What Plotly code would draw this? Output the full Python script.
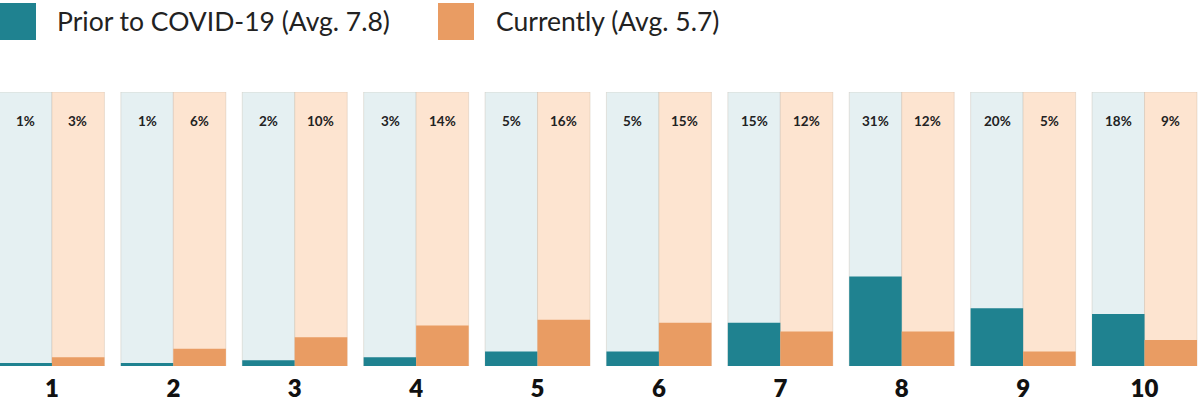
import plotly.graph_objects as go

# rating scale 1-10, share of respondents (%)
ratings = ["1", "2", "3", "4", "5", "6", "7", "8", "9", "10"]
prior_pct = [1, 1, 2, 3, 5, 5, 15, 31, 20, 18]
current_pct = [3, 6, 10, 14, 16, 15, 12, 12, 5, 9]

prior_name = "Prior to COVID-19 (Avg. 7.8)"
current_name = "Currently (Avg. 5.7)"

TEAL = "#1f8290"
ORANGE = "#e99c63"
TEAL_BG = "#e5f0f2"
ORANGE_BG = "#fde4d0"
FONT = "Lato"

panel_top = 95  # y value of the pale panel behind each bar

H = 412
M_TOP, M_BOT = 92, 46
PLOT_H = H - M_TOP - M_BOT


def _paper_y(px_from_top):
    # convert a pixel row of the figure into paper coords of the plot area
    return (H - M_BOT - px_from_top) / PLOT_H


def main():
    fig = go.Figure()

    x = [int(r) for r in ratings]

    # pale full-height panels behind each bar
    for name, color, group in [
        ("prior_bg", TEAL_BG, "prior"),
        ("current_bg", ORANGE_BG, "current"),
    ]:
        fig.add_trace(
            go.Bar(
                x=x,
                y=[panel_top] * len(x),
                name=name,
                offsetgroup=group,
                marker=dict(color=color, line=dict(color="rgba(180,160,140,0.25)", width=1)),
                hoverinfo="skip",
                showlegend=False,
            )
        )

    fig.add_trace(
        go.Bar(x=x, y=prior_pct, name=prior_name, offsetgroup="prior",
               marker=dict(color=TEAL, line=dict(width=0)), showlegend=False)
    )
    fig.add_trace(
        go.Bar(x=x, y=current_pct, name=current_name, offsetgroup="current",
               marker=dict(color=ORANGE, line=dict(width=0)), showlegend=False)
    )

    # percentage labels near the top of each panel
    for xi, p, c in zip(x, prior_pct, current_pct):
        for val, shift in [(p, -26), (c, 26)]:
            fig.add_annotation(
                x=xi, y=panel_top, xref="x", yref="y",
                text=f"{val}%", showarrow=False,
                xshift=shift, yshift=-29, yanchor="middle",
                font=dict(family=FONT, size=13.5, color="#222222", weight="bold"),
            )

    # custom legend with large squares
    for x0, tx, color, label in [
        (0.0, 0.0455, TEAL, prior_name),
        (0.365, 0.4115, ORANGE, current_name),
    ]:
        fig.add_shape(
            type="rect", xref="paper", yref="paper",
            x0=x0, x1=x0 + 0.03, y0=_paper_y(40), y1=_paper_y(3),
            fillcolor=color, line=dict(width=0), layer="above",
        )
        fig.add_annotation(
            x=tx, y=_paper_y(21), xref="paper", yref="paper",
            text=label, showarrow=False, xanchor="left", yanchor="middle",
            font=dict(family=FONT, size=26.5, color="#222222"),
        )

    fig.update_layout(
        width=1200,
        height=H,
        margin=dict(l=0, r=0, t=M_TOP, b=M_BOT),
        barmode="group",
        bargap=0.135,
        bargroupgap=0,
        plot_bgcolor="white",
        paper_bgcolor="white",
        showlegend=False,
    )
    fig.update_xaxes(
        range=[0.572, 10.457],
        tickmode="array",
        tickvals=x,
        ticktext=ratings,
        ticks="outside",
        ticklen=1,
        tickcolor="white",
        showgrid=False,
        zeroline=False,
        showline=False,
        tickfont=dict(family=FONT, size=24, color="#111111", weight=800),
    )
    fig.update_yaxes(
        range=[0, panel_top],
        visible=False,
        showgrid=False,
        zeroline=False,
    )

    fig.write_html(
        "out.html",
        config={"displayModeBar": False},
        post_script="document.body.style.margin='0';",
    )


if __name__ == "__main__":
    main()
